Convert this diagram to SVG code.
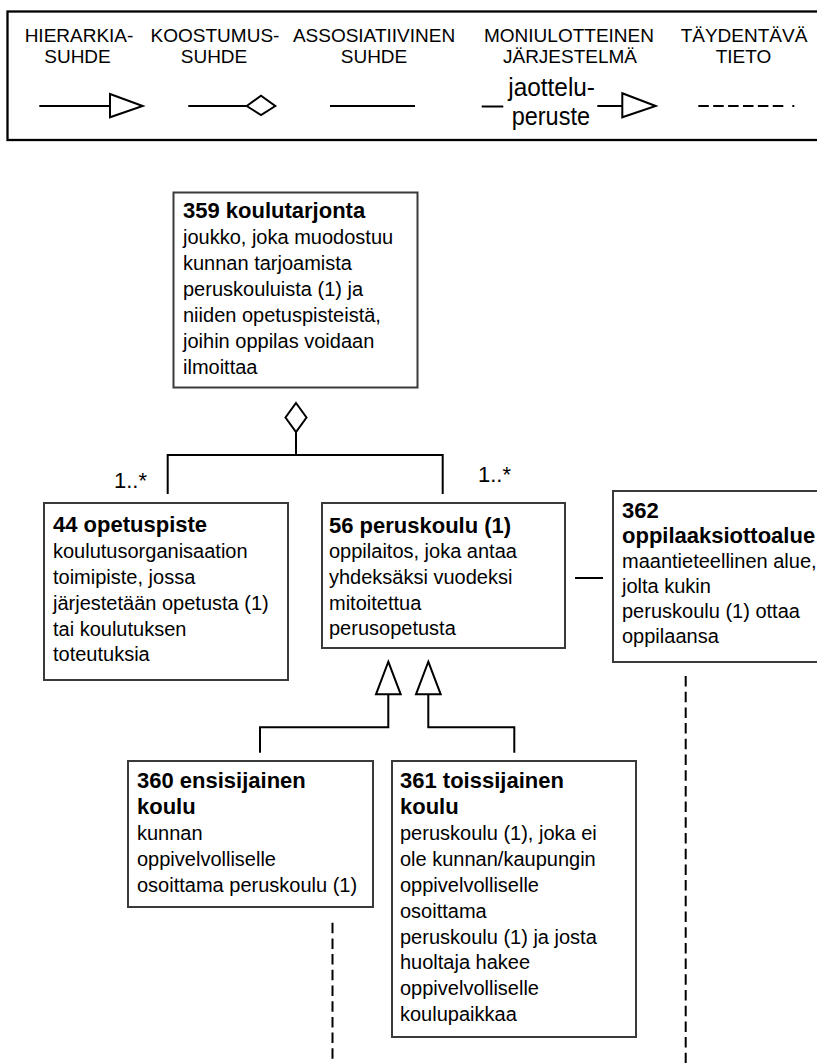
<svg xmlns="http://www.w3.org/2000/svg" width="817" height="1063" viewBox="0 0 817 1063">
<style>
.box{fill:#fff;stroke:#3a3a3a;stroke-width:2}
.ln{fill:none;stroke:#000;stroke-width:2}
.hd{fill:#fff;stroke:#000;stroke-width:2}
.dash{fill:none;stroke:#000;stroke-width:2;stroke-dasharray:10.5 5.2}
text{font-family:"Liberation Sans",Arial,sans-serif;fill:#000}
.t{font-size:22px;font-weight:bold}
.b{font-size:20px}
.lg{font-size:19px;text-anchor:middle}
.jp{font-size:25px}
.m{font-size:22px}
</style>
<rect width="817" height="1063" fill="#fff"/>
<g id="legend">
<rect x="7.5" y="11.5" width="830" height="128.5" fill="#fff" stroke="#000" stroke-width="2.3"/>
<text class="lg" x="79" y="41.7">HIERARKIA-</text>
<text class="lg" x="77.5" y="63.3">SUHDE</text>
<text class="lg" x="215" y="41.7">KOOSTUMUS-</text>
<text class="lg" x="214" y="63.3">SUHDE</text>
<text class="lg" x="374" y="41.7">ASSOSIATIIVINEN</text>
<text class="lg" x="374" y="63.3">SUHDE</text>
<text class="lg" x="569" y="41.7">MONIULOTTEINEN</text>
<text class="lg" x="570" y="63.3">JÄRJESTELMÄ</text>
<text class="lg" x="744" y="41.7">TÄYDENTÄVÄ</text>
<text class="lg" x="743.5" y="63.3">TIETO</text>
<line class="ln" x1="39.3" y1="106" x2="110" y2="106"/>
<polygon class="hd" points="110,94 142.7,106 110,117.3"/>
<line class="ln" x1="188.3" y1="106" x2="246.7" y2="106"/>
<polygon class="hd" points="246.7,106 261,95.7 275.3,106 261,115"/>
<line class="ln" x1="330" y1="106" x2="415" y2="106"/>
<line class="ln" x1="481.7" y1="106.5" x2="503.3" y2="106.5"/>
<text class="jp" x="508.3" y="96" textLength="86.7" lengthAdjust="spacingAndGlyphs">jaottelu-</text>
<text class="jp" x="511.7" y="125" textLength="78.3" lengthAdjust="spacingAndGlyphs">peruste</text>
<line class="ln" x1="597.3" y1="106" x2="622.3" y2="106"/>
<polygon class="hd" points="622.3,93.3 655.7,106 622.3,117.3"/>
<line class="dash" x1="698.3" y1="106" x2="783.3" y2="106" style="stroke-dasharray:10.5 4.4"/>
<line class="ln" x1="792.3" y1="106" x2="794.3" y2="106"/>
</g>
<g id="connectors">
<polygon class="hd" points="296,403 306.5,417.5 296,432 285.5,417.5"/>
<polyline class="ln" points="296,432 296,455"/>
<polyline class="ln" points="167.7,494 167.7,455 442.7,455 442.7,494"/>
<text class="m" x="114" y="488">1..*</text>
<text class="m" x="478" y="482">1..*</text>
<line class="ln" x1="575" y1="578" x2="603" y2="578"/>
<polygon class="hd" points="388.3,661.7 400.7,694.3 376,694.3"/>
<polygon class="hd" points="428.3,661.7 440.7,694.3 416,694.3"/>
<polyline class="ln" points="388.3,694.3 388.3,727.3 260,727.3 260,752.7"/>
<polyline class="ln" points="428.3,694.3 428.3,727.3 514.3,727.3 514.3,752.7"/>
<line class="dash" x1="332.5" y1="922.7" x2="332.5" y2="1063"/>
<line class="dash" x1="685.7" y1="676" x2="685.7" y2="1063"/>
</g>
<g id="n359">
<rect class="box" x="173.5" y="192.5" width="244" height="195"/>
<text class="t" x="183" y="218">359 koulutarjonta</text>
<text class="b" x="183" y="244">joukko, joka muodostuu</text>
<text class="b" x="183" y="270">kunnan tarjoamista</text>
<text class="b" x="183" y="296">peruskouluista (1) ja</text>
<text class="b" x="183" y="322">niiden opetuspisteistä,</text>
<text class="b" x="183" y="348">joihin oppilas voidaan</text>
<text class="b" x="183" y="374">ilmoittaa</text>
</g>
<g id="n44">
<rect class="box" x="44" y="503" width="244" height="177"/>
<text class="t" x="53" y="532">44 opetuspiste</text>
<text class="b" x="53" y="558">koulutusorganisaation</text>
<text class="b" x="53" y="584">toimipiste, jossa</text>
<text class="b" x="53" y="609.5">järjestetään opetusta (1)</text>
<text class="b" x="53" y="635.5">tai koulutuksen</text>
<text class="b" x="53" y="661">toteutuksia</text>
</g>
<g id="n56">
<rect class="box" x="322" y="503" width="243" height="145"/>
<text class="t" x="329" y="533">56 peruskoulu (1)</text>
<text class="b" x="329" y="558">oppilaitos, joka antaa</text>
<text class="b" x="329" y="584">yhdeksäksi vuodeksi</text>
<text class="b" x="329" y="609.5">mitoitettua</text>
<text class="b" x="329" y="635">perusopetusta</text>
</g>
<g id="n362">
<rect class="box" x="613" y="491" width="230" height="171"/>
<text class="t" x="622" y="518">362</text>
<text class="t" x="622" y="543">oppilaaksiottoalue</text>
<text class="b" x="622" y="568">maantieteellinen alue,</text>
<text class="b" x="622" y="593">jolta kukin</text>
<text class="b" x="622" y="618">peruskoulu (1) ottaa</text>
<text class="b" x="622" y="643">oppilaansa</text>
</g>
<g id="n360">
<rect class="box" x="128" y="761" width="245" height="146"/>
<text class="t" x="137" y="788">360 ensisijainen</text>
<text class="t" x="137" y="814">koulu</text>
<text class="b" x="137" y="840">kunnan</text>
<text class="b" x="137" y="866">oppivelvolliselle</text>
<text class="b" x="137" y="892">osoittama peruskoulu (1)</text>
</g>
<g id="n361">
<rect class="box" x="392" y="761" width="244" height="276"/>
<text class="t" x="400" y="788">361 toissijainen</text>
<text class="t" x="400" y="814">koulu</text>
<text class="b" x="400" y="840">peruskoulu (1), joka ei</text>
<text class="b" x="400" y="866">ole kunnan/kaupungin</text>
<text class="b" x="400" y="892">oppivelvolliselle</text>
<text class="b" x="400" y="918">osoittama</text>
<text class="b" x="400" y="943.5">peruskoulu (1) ja josta</text>
<text class="b" x="400" y="969">huoltaja hakee</text>
<text class="b" x="400" y="995">oppivelvolliselle</text>
<text class="b" x="400" y="1021">koulupaikkaa</text>
</g>
</svg>
